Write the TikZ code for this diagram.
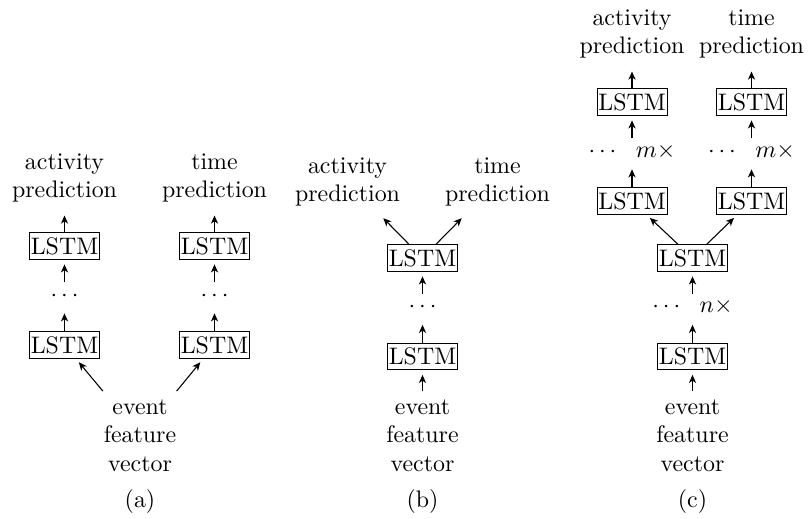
\documentclass[tikz,border=0pt]{standalone}
\usetikzlibrary{arrows.meta}
\begin{document}
\begin{tikzpicture}[x=0.41841pt,y=-0.41841pt,
  lstm/.style={draw, line width=0.4pt, inner xsep=0.55pt, inner ysep=1.85pt},
  lbl/.style={align=center, inner sep=0.3333em},
  dts/.style={inner sep=0pt, minimum height=10.5pt, text height=5pt, text depth=0pt},
  arr/.style={-{Stealth[length=3.4pt,width=3pt,inset=1pt]}, shorten >=2pt, line width=0.45pt}]
\useasboundingbox (0,0) rectangle (808,518);
% ---------- (a)
\node[lstm] (a1) at (64.5,345) {LSTM};
\node[dts]  (ad) at (64.5,295.5) {$\cdots$};
\node[lstm] (a2) at (64.5,246) {LSTM};
\node[lstm] (b1) at (214.5,345) {LSTM};
\node[dts]  (bd) at (214.5,295.5) {$\cdots$};
\node[lstm] (b2) at (214.5,246) {LSTM};
\node[lbl] (aact) at (64.5,177.8) {activity\\prediction};
\node[lbl] (atim) at (214.5,177.8) {time\\prediction};
\node[lbl] (ain) at (140,435.7) {event\\feature\\vector};
\node[anchor=base] (capa) at (140,507) {(a)};
\draw[arr] (ain) -- (a1);
\draw[arr] (ain) -- (b1);
\draw[arr] (a1) -- (ad);
\draw[arr] (ad) -- (a2);
\draw[arr] (a2) -- (aact);
\draw[arr] (b1) -- (bd);
\draw[arr] (bd) -- (b2);
\draw[arr] (b2) -- (atim);
% ---------- (b)
\node[lstm] (c1) at (422.5,356.5) {LSTM};
\node[dts]  (cd) at (422.5,307) {$\cdots$};
\node[lstm] (c2) at (422.5,258) {LSTM};
\node[lbl] (bact) at (347.5,181.8) {activity\\prediction};
\node[lbl] (btim) at (497.5,181.8) {time\\prediction};
\node[lbl] (bin) at (422.5,435.7) {event\\feature\\vector};
\node[anchor=base] (capb) at (422.5,507) {(b)};
\draw[arr] (bin) -- (c1);
\draw[arr] (c1) -- (cd);
\draw[arr] (cd) -- (c2);
\draw[arr] (c2) -- (bact);
\draw[arr] (c2) -- (btim);
% ---------- (c)
\node[lstm] (d1) at (692.5,356.5) {LSTM};
\node[dts]  (dd) at (692.5,307) {$\cdots\kern6.5pt n\times$};
\node[lstm] (d2) at (692.5,258) {LSTM};
\node[lstm] (e1) at (632,201) {LSTM};
\node[dts]  (ed) at (632,151.5) {$\cdots\kern6.5pt m\times$};
\node[lstm] (e2) at (632,102) {LSTM};
\node[lstm] (f1) at (751.5,201) {LSTM};
\node[dts]  (fd) at (751.5,151.5) {$\cdots\kern6.5pt m\times$};
\node[lstm] (f2) at (751.5,102) {LSTM};
\node[lbl] (cact) at (632,33.8) {activity\\prediction};
\node[lbl] (ctim) at (751.5,33.8) {time\\prediction};
\node[lbl] (cin) at (692.5,435.7) {event\\feature\\vector};
\node[anchor=base] (capc) at (692.5,507) {(c)};
\draw[arr] (cin) -- (d1);
\draw[arr] (d1) -- (dd);
\draw[arr] (dd) -- (d2);
\draw[arr] (d2) -- (e1);
\draw[arr] (d2) -- (f1);
\draw[arr] (e1) -- (ed);
\draw[arr] (ed) -- (e2);
\draw[arr] (e2) -- (cact);
\draw[arr] (f1) -- (fd);
\draw[arr] (fd) -- (f2);
\draw[arr] (f2) -- (ctim);
\end{tikzpicture}
\end{document}
